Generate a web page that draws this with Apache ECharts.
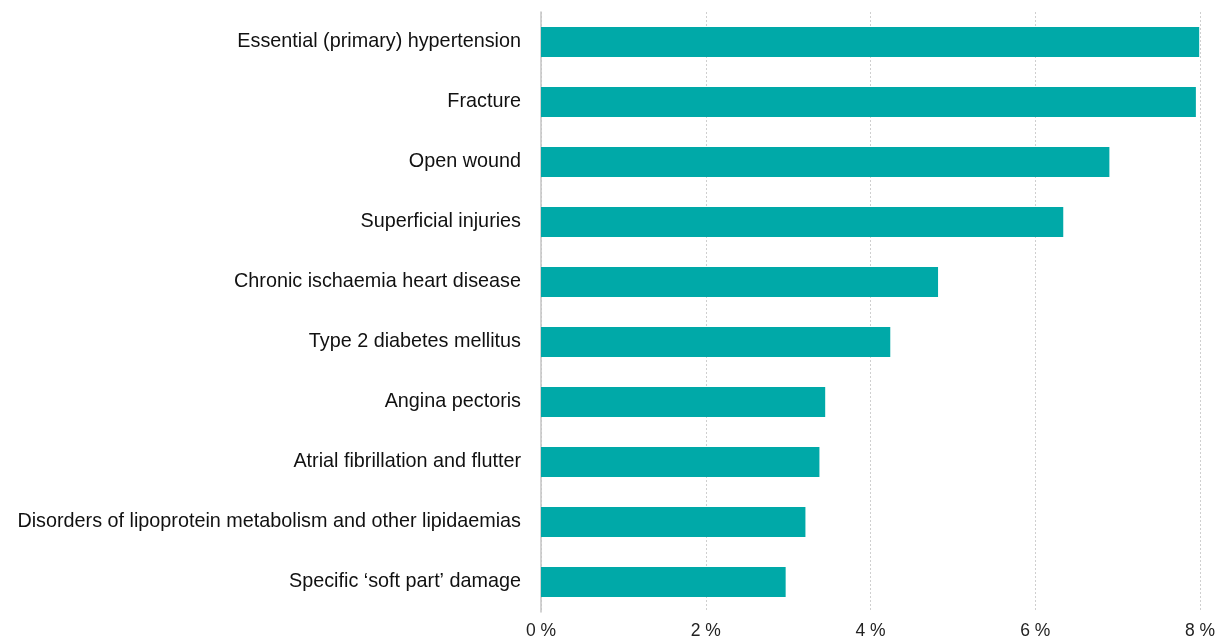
<!DOCTYPE html>
<html>
<head>
<meta charset="utf-8">
<script src="https://cdn.jsdelivr.net/npm/echarts@6/dist/echarts.min.js"></script>
<style>
  html, body { margin: 0; padding: 0; background: #fff; }
  #chart { width: 1223px; height: 644px; }
</style>
</head>
<body>
<div id="chart"></div>
<script>
// top to bottom as in the picture
const categories = [
  'Essential (primary) hypertension',
  'Fracture',
  'Open wound',
  'Superficial injuries',
  'Chronic ischaemia heart disease',
  'Type 2 diabetes mellitus',
  'Angina pectoris',
  'Atrial fibrillation and flutter',
  'Disorders of lipoprotein metabolism and other lipidaemias',
  'Specific \u2018soft part\u2019 damage'
];
const shares = [7.99, 7.95, 6.9, 6.34, 4.82, 4.24, 3.45, 3.38, 3.21, 2.97];
const ticks = [0, 2, 4, 6, 8];

var dom = document.getElementById('chart');
var myChart = echarts.init(dom, null, { renderer: 'canvas' });

var option = {
  animation: false,
  grid: { left: 541, right: 23, top: 12, bottom: 32, containLabel: false },
  xAxis: {
    type: 'value',
    min: ticks[0],
    max: ticks[ticks.length - 1],
    interval: 2,
    axisLine: { show: false },
    axisTick: { show: false },
    axisLabel: {
      formatter: v => v + ' %',
      color: '#222',
      fontSize: 17.5,
      fontFamily: 'Liberation Sans, Arial, sans-serif',
      margin: 10
    },
    splitLine: {
      show: true,
      lineStyle: { color: '#cfcfcf', type: [2, 2], width: 1 }
    }
  },
  yAxis: {
    type: 'category',
    inverse: true,
    data: categories,
    axisLine: { show: true, lineStyle: { color: '#c4c4c4', width: 1.5 } },
    axisTick: { show: false },
    axisLabel: {
      color: '#111',
      fontSize: 19.8,
      fontFamily: 'Liberation Sans, Arial, sans-serif',
      margin: 20
    }
  },
  series: [{
    type: 'bar',
    data: shares,
    barWidth: 30,
    itemStyle: { color: '#00a9a8' }
  }]
};

myChart.setOption(option);
window.addEventListener('resize', myChart.resize);
</script>
</body>
</html>
